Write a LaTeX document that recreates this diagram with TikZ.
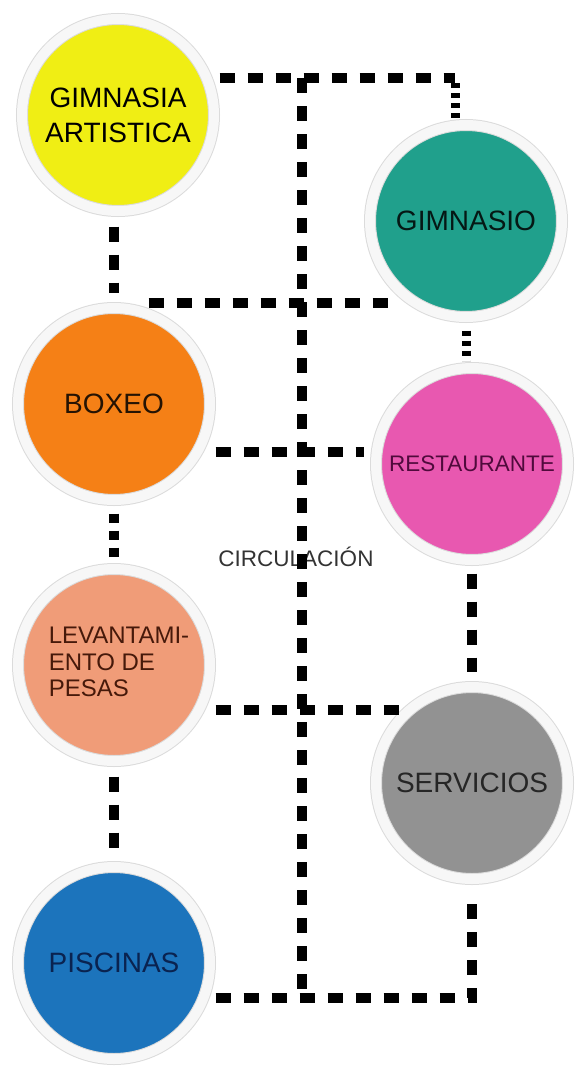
\documentclass[tikz,border=0pt]{standalone}
\usepackage{fontspec}
\setmainfont{Liberation Sans}
\usepackage{tikz}
\usetikzlibrary{calc}
\definecolor{amarillo}{RGB}{240,238,20}
\definecolor{verdeazul}{RGB}{32,160,140}
\definecolor{naranja}{RGB}{245,128,22}
\definecolor{rosa}{RGB}{232,88,176}
\definecolor{salmon}{RGB}{240,156,120}
\definecolor{gris}{RGB}{146,146,146}
\definecolor{azul}{RGB}{28,116,188}
\newcommand{\tam}[2]{\fontsize{#1}{#2}\selectfont}

\begin{document}
\begin{tikzpicture}[x=1pt,y=-1pt,
        sala/.style={circle, minimum size=192pt, inner sep=0pt, outer sep=5.5pt,
            draw=gray!28, line width=1pt, double=gray!6, double distance=10pt,
            align=center, font=\tam{28}{35}},
        via/.style={line width=10.5pt, dash pattern=on 15pt off 13pt},
        viafina/.style={line width=9pt, dash pattern=on 5pt off 5pt},
        viamedia/.style={line width=9.5pt, dash pattern=on 9pt off 8pt}]
    \useasboundingbox (0,0) rectangle (575,1068);

    \node[sala, fill=amarillo] (gimart) at (118,115) {GIMNASIA\\ARTISTICA};
    \node[sala, fill=verdeazul, text=black!85!verdeazul] (gimnasio) at (466,221) {\raisebox{-7pt}{GIMNASIO}};
    \node[sala, fill=naranja, text=black!85!naranja] (boxeo) at (114,404) {BOXEO};
    \node[sala, fill=rosa, text={rgb,255:red,80;green,10;blue,60}, font=\tam{22.5}{26}] (restaurante) at (472,464) {\raisebox{-3pt}{RESTAURANTE}};
    \node[sala, fill=salmon, text={rgb,255:red,70;green,25;blue,10}, align=left, font=\tam{24}{26.5}] (levant) at (114,665) {\hspace*{10pt}\raisebox{-7pt}{\begin{tabular}{@{}l@{}}LEVANTAMI-\\ENTO DE\\PESAS\end{tabular}}};
    \node[sala, fill=gris, text=black!85] (servicios) at (472,783) {SERVICIOS};
    \node[sala, fill=azul, text={rgb,255:red,10;green,35;blue,80}] (piscinas) at (114,963) {\raisebox{-4pt}{PISCINAS}};

    \node[text=black!80, font=\tam{22.5}{26}] (circ) at (296,557) {CIRCULACIÓN};

    \coordinate (ctop) at (302,78);
    \coordinate (cbot) at (302,998);
    \coordinate (j1) at (302,303);
    \coordinate (j2) at (302,452);
    \coordinate (j3) at (302,710);
    \coordinate (gn) at ([xshift=-11pt]gimnasio.north);

    \draw[via] (ctop -| gimart.east) -- (ctop -| gn);
    \draw[viafina] ([yshift=-5pt]ctop -| gn) -- (gn);
    \draw[via] (ctop) -- ([yshift=8pt]cbot);
    \draw[via, shorten <=10pt, shorten >=10pt] (gimart.south -| boxeo.north) -- (boxeo.north);
    \draw[via, shorten >=10pt] (j1 -| boxeo.70) -- (j1 -| gimnasio.234);
    \draw[viafina, shorten <=8pt, shorten >=2pt] (gimnasio.south) -- (gimnasio.south |- restaurante.north);
    \draw[via, shorten >=7pt] (j2 -| boxeo.east) -- (j2 -| restaurante.west);
    \draw[viamedia, shorten <=8pt, shorten >=5pt] (boxeo.south) -- (levant.north);
    \draw[via, shorten <=8pt, shorten >=10pt] (restaurante.south) -- (servicios.north);
    \draw[via] (j3 -| levant.east) -- (j3 -| servicios.226);
    \draw[via, shorten <=10pt, shorten >=8pt] (levant.south) -- (piscinas.north);
    \draw[via] (cbot -| piscinas.east) -| ([yshift=-10pt]servicios.south);
\end{tikzpicture}
\end{document}
